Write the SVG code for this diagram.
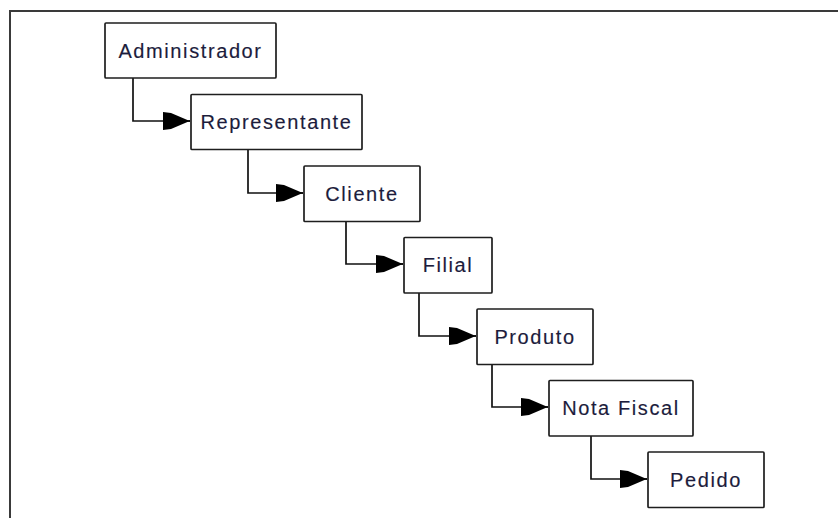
<svg xmlns="http://www.w3.org/2000/svg" width="838" height="518" viewBox="0 0 838 518">
  <style>
    .frame { fill: none; stroke: #3a3a3a; stroke-width: 2; }
    .box { fill: #ffffff; stroke: #1e1e1e; stroke-width: 1.7; }
    .label { font-family: "Liberation Sans", Arial, sans-serif; font-size: 20px; letter-spacing: 1.6px; fill: #1c1c3c; stroke: #1c1c3c; stroke-width: 0.15; text-anchor: middle; }
    .link { fill: none; stroke: #111111; stroke-width: 1.7; }
  </style>
  <defs>
    <marker id="head" markerUnits="userSpaceOnUse" markerWidth="30" markerHeight="20" viewBox="-28 -10 30 20" refX="0" refY="0" orient="auto" overflow="visible">
      <polygon points="-27,-9 -19,-8 -2,-0.8 0,-0.8 0,0.8 -2,0.8 -19,8 -27,9" fill="#000000"/>
    </marker>
  </defs>

  <rect width="838" height="518" fill="#ffffff"/>

  <!-- open frame: top and left edges only -->
  <path class="frame" d="M10,518 V11 H838"/>

  <g id="connectors">
    <path class="link" d="M133,78 V121 H190" marker-end="url(#head)"/>
    <path class="link" d="M248,150 V193 H303" marker-end="url(#head)"/>
    <path class="link" d="M346,222 V264 H403" marker-end="url(#head)"/>
    <path class="link" d="M419,293 V336 H476" marker-end="url(#head)"/>
    <path class="link" d="M492,365 V407 H548" marker-end="url(#head)"/>
    <path class="link" d="M591,436 V479 H647" marker-end="url(#head)"/>
  </g>

  <g id="administrador">
    <rect class="box" x="105" y="23" width="171" height="55" rx="1"/>
    <text class="label" x="190.5" y="57.5">Administrador</text>
  </g>
  <g id="representante">
    <rect class="box" x="191" y="94.5" width="171" height="55" rx="1"/>
    <text class="label" x="276.5" y="129">Representante</text>
  </g>
  <g id="cliente">
    <rect class="box" x="304" y="166" width="116" height="55.5" rx="1"/>
    <text class="label" x="362" y="200.5">Cliente</text>
  </g>
  <g id="filial">
    <rect class="box" x="404" y="237.5" width="88" height="55.5" rx="1"/>
    <text class="label" x="448" y="272">Filial</text>
  </g>
  <g id="produto">
    <rect class="box" x="477" y="309" width="116" height="55.5" rx="1"/>
    <text class="label" x="535" y="343.5">Produto</text>
  </g>
  <g id="nota-fiscal">
    <rect class="box" x="549" y="380.5" width="144" height="55.5" rx="1"/>
    <text class="label" x="621" y="415">Nota Fiscal</text>
  </g>
  <g id="pedido">
    <rect class="box" x="648" y="452" width="116" height="55.5" rx="1"/>
    <text class="label" x="706" y="486.5">Pedido</text>
  </g>
</svg>
